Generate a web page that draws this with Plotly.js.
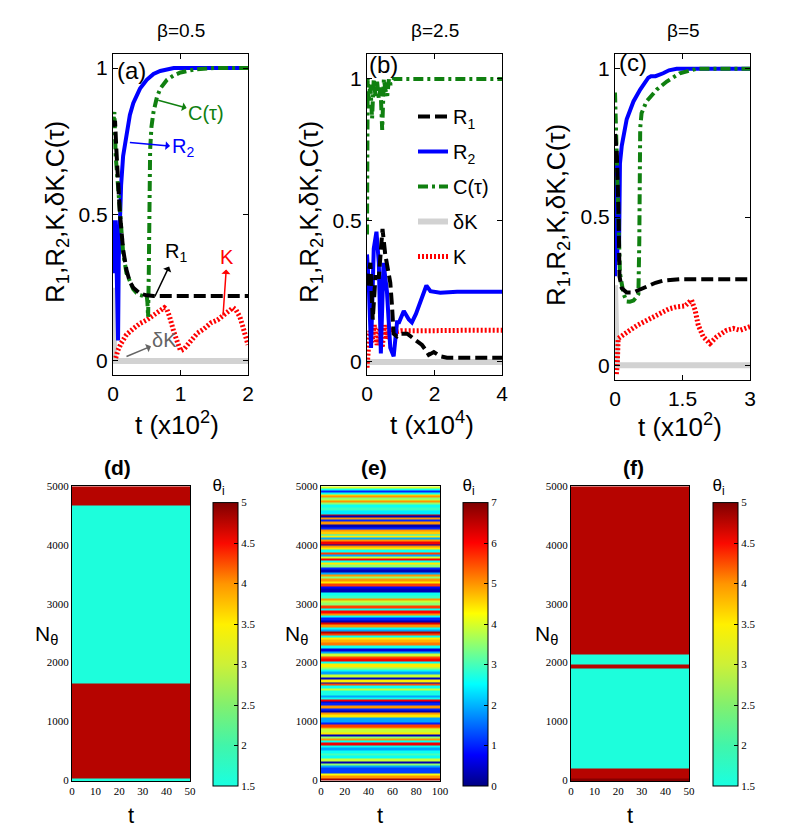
<!DOCTYPE html>
<html><head><meta charset="utf-8">
<script src="https://cdn.plot.ly/plotly-3.0.1.min.js"></script>
<style>html,body{margin:0;padding:0;background:#fff}#chart{width:790px;height:829px}</style>
</head><body><div id="chart"></div>
<script>
// ---------- Panel (a): beta = 0.5, t in units of 10^2 ----------
const tR1a = [0, 0.03, 0.05, 0.1, 0.15, 0.2, 0.25, 0.3, 0.4, 0.5, 0.6, 0.8, 1.0, 1.5, 2.0];
const R1a  = [0.8, 0.82, 0.72, 0.51, 0.38, 0.31, 0.27, 0.25, 0.23, 0.224, 0.222, 0.222, 0.222, 0.222, 0.222];
const tR2a = [0, 0.02, 0.04, 0.06, 0.075, 0.085, 0.1, 0.12, 0.15, 0.2, 0.25, 0.3, 0.4, 0.5, 0.6, 0.7, 0.9, 1.2, 2.0];
const R2a  = [0.48, 0.3, 0.48, 0.2, 0.07, 0.35, 0.5, 0.6, 0.7, 0.78, 0.84, 0.88, 0.93, 0.96, 0.98, 0.99, 1.0, 1.0, 1.0];
const tCa  = [0, 0.02, 0.04, 0.07, 0.1, 0.12, 0.15, 0.2, 0.25, 0.3, 0.35, 0.4, 0.45, 0.5, 0.51, 0.52, 0.53, 0.54, 0.55, 0.57, 0.6, 0.65, 0.7, 0.8, 0.9, 1.0, 1.2, 1.5, 2.0];
const Ca   = [0.8, 0.85, 0.7, 0.6, 0.5, 0.44, 0.37, 0.3, 0.27, 0.245, 0.232, 0.225, 0.222, 0.222, 0.2, 0.15, 0.3, 0.55, 0.72, 0.8, 0.85, 0.9, 0.93, 0.96, 0.975, 0.985, 0.995, 1.0, 1.0];
const tKa  = [0.04, 0.07, 0.12, 0.2, 0.3, 0.4, 0.5, 0.6, 0.7, 0.76, 0.8, 0.84, 0.9, 0.95, 1.0, 1.05, 1.15, 1.25, 1.35, 1.45, 1.55, 1.65, 1.72, 1.78, 1.82, 1.88, 1.92, 1.96, 2.0];
const Ka   = [0.01, 0.035, 0.06, 0.09, 0.11, 0.128, 0.14, 0.156, 0.17, 0.182, 0.175, 0.15, 0.1, 0.065, 0.035, 0.04, 0.07, 0.095, 0.11, 0.13, 0.14, 0.156, 0.17, 0.182, 0.175, 0.15, 0.12, 0.085, 0.055];
const tdKa = [0, 0.01, 0.02, 2.0];
const dKa  = [0.25, 0.05, 0, 0];

// ---------- Panel (b): beta = 2.5, t in units of 10^4 ----------
const tR1b = [0, 0.1, 0.17, 0.25, 0.35, 0.46, 0.54, 0.62, 0.69, 0.74, 0.79, 0.89, 1.0, 1.19, 1.43, 1.63, 1.78, 1.83, 1.98, 2.17, 2.37, 4.0];
const R1b  = [0.27, 0.35, 0.15, 0.3, 0.3, 0.47, 0.38, 0.32, 0.28, 0.2, 0.1, 0.09, 0.1, 0.1, 0.08, 0.06, 0.035, 0.025, 0.035, 0.02, 0.015, 0.015];
const tR2b = [0, 0.05, 0.12, 0.2, 0.28, 0.35, 0.41, 0.49, 0.59, 0.69, 0.79, 0.89, 0.95, 1.09, 1.24, 1.33, 1.45, 1.58, 1.76, 1.88, 2.17, 2.67, 4.0];
const R2b  = [0.38, 0.28, 0.05, 0.4, 0.46, 0.35, 0.03, 0.35, 0.25, 0.05, 0.02, 0.14, 0.14, 0.18, 0.15, 0.14, 0.17, 0.21, 0.27, 0.25, 0.245, 0.248, 0.248];
const tCb  = [0, 0.02, 0.05, 0.1, 0.15, 0.2, 0.25, 0.3, 0.35, 0.4, 0.45, 0.5, 0.55, 0.6, 0.65, 0.7, 0.8, 1.0, 4.0];
const Cb   = [0.45, 1.0, 0.93, 0.98, 0.86, 1.0, 0.94, 0.99, 0.93, 0.97, 0.82, 1.0, 0.96, 0.94, 1.0, 0.98, 1.0, 1.0, 1.0];
const tKb  = [0, 0.03, 0.08, 0.15, 0.22, 0.3, 0.38, 0.45, 0.52, 0.6, 0.7, 0.8, 1.0, 1.5, 2.0, 3.0, 4.0];
const Kb   = [-0.02, 0.06, 0.11, 0.07, 0.13, 0.06, 0.12, 0.05, 0.13, 0.08, 0.12, 0.105, 0.11, 0.11, 0.112, 0.112, 0.112];
const tdKb = [0, 4.0];
const dKb  = [0, 0];

// ---------- Panel (c): beta = 5, t in units of 10^2 ----------
const tR1c = [0, 0.04, 0.08, 0.1, 0.15, 0.26, 0.4, 0.52, 0.65, 0.78, 0.9, 1.07, 1.25, 1.44, 3.0];
const R1c  = [0.78, 0.72, 0.5, 0.3, 0.26, 0.245, 0.245, 0.253, 0.262, 0.27, 0.278, 0.285, 0.288, 0.29, 0.29];
const tR2c = [0, 0.03, 0.05, 0.07, 0.09, 0.11, 0.15, 0.26, 0.41, 0.56, 0.74, 0.8, 0.9, 1.0, 1.07, 1.2, 1.37, 3.0];
const R2c  = [0.3, 0.7, 0.35, 0.65, 0.4, 0.68, 0.74, 0.83, 0.89, 0.93, 0.97, 0.975, 0.975, 0.98, 0.985, 0.995, 1.0, 1.0];
const tCc  = [0, 0.04, 0.08, 0.11, 0.19, 0.26, 0.33, 0.41, 0.48, 0.52, 0.54, 0.56, 0.59, 0.7, 0.93, 1.15, 1.44, 1.81, 3.0];
const Cc   = [0.92, 0.7, 0.45, 0.31, 0.24, 0.215, 0.214, 0.218, 0.23, 0.24, 0.42, 0.8, 0.85, 0.89, 0.93, 0.957, 0.985, 1.0, 1.0];
const tKc  = [0.03, 0.05, 0.07, 0.15, 0.33, 0.5, 0.7, 0.9, 1.07, 1.2, 1.37, 1.56, 1.7, 1.78, 1.85, 1.96, 2.11, 2.26, 2.48, 2.63, 2.78, 2.96, 3.0];
const Kc   = [-0.03, 0.0, 0.09, 0.1, 0.118, 0.135, 0.152, 0.165, 0.18, 0.19, 0.197, 0.2, 0.22, 0.186, 0.135, 0.096, 0.073, 0.096, 0.118, 0.124, 0.118, 0.13, 0.13];
const tdKc = [0, 0.02, 0.04, 3.0];
const dKc  = [0.27, 0.05, 0, 0];

// ---------- Heatmaps: theta_i bands over oscillator index N_theta ----------
const tEdgesD = [0, 50];
const nEdgesD = [-40, 30, 1645, 4677, 5000];
const thetaD  = [1.55, 4.78, 1.55, 4.78];

const tEdgesE = [0, 100];
const nEdgesE = [5000,4966,4926,4898,4870,4841,4813,4785,4756,4728,
  4700,4643,4586,4530,4500,4473,4433,4399,4360,4303,
  4275,4229,4190,4161,4133,4105,4059,4020,3991,3963,
  3935,3878,3850,3810,3776,3748,3708,3663,3623,3583,
  3538,3504,3470,3425,3380,3340,3300,3255,3198,3141,
  3096,3056,3017,2971,2926,2886,2830,2801,2773,2716,
  2677,2643,2603,2563,2529,2490,2461,2433,2393,2348,
  2291,2246,2189,2150,2110,2065,2019,1980,1923,1883,
  1849,1793,1753,1713,1668,1640,1611,1555,1526,1441,
  1413,1373,1345,1317,1271,1226,1186,1147,1113,1073,
  988,943,903,875,818,773,744,705,676,637,
  591,546,506,450,410,365,319,280,251,206,
  110,70,25,0];
const thetaE = [4.0,2.6,1.0,2.6,4.4,5.0,3.5,3.9,5.0,3.5,
  2.6,2.9,2.4,6.4,0.3,5.0,1.0,5.0,0.3,1.0,
  5.0,4.6,2.6,4.4,1.9,5.0,6.1,0.3,5.0,4.4,
  2.6,5.6,1.9,3.9,6.1,2.6,4.4,3.5,1.0,0.3,
  1.9,5.0,3.5,5.0,4.4,5.6,0.8,0.3,2.6,2.9,
  5.0,3.9,3.5,5.6,2.6,6.0,5.0,2.6,1.0,0.3,
  6.3,5.0,2.6,1.9,6.6,5.6,2.6,4.4,4.8,5.2,
  2.6,0.5,1.9,3.9,5.5,6.1,2.6,4.4,3.5,2.6,
  1.9,3.9,0.4,4.4,0.3,5.5,2.6,3.9,2.7,1.9,
  2.6,6.1,0.3,1.0,5.0,1.0,0.3,5.0,4.4,1.9,
  1.0,5.6,5.0,3.9,4.4,0.3,3.5,5.0,2.6,6.1,
  2.6,1.9,2.6,3.0,2.6,3.9,0.3,3.5,1.9,1.2,
  4.2,5.0,6.7];

const tEdgesF = [0, 50];
const nEdgesF = [-40, 20, 200, 1900, 1960, 2130, 5000];
const thetaF  = [4.98, 4.78, 1.55, 4.78, 1.55, 4.78];

// ---------- styles ----------
const SANS = 'Liberation Sans, Arial, sans-serif';
const SERIF = 'Liberation Serif, Times New Roman, serif';
const cR1 = 'black', cR2 = 'rgb(0,0,255)', cC = 'rgb(16,128,16)', cdK = 'rgb(210,210,210)', cK = 'rgb(255,0,0)';

function lineSet(xa, ya, tR1, R1, tR2, R2, tC, C, tK, K, tdK, dK, show) {
  return [
    {x: tdK, y: dK, xaxis: xa, yaxis: ya, mode: 'lines', name: 'δK', legendgroup: 'g4', legendrank: 4, showlegend: show,
     line: {color: cdK, width: 6}},
    {x: tK, y: K, xaxis: xa, yaxis: ya, mode: 'lines', name: 'K', legendgroup: 'g5', legendrank: 5, showlegend: show,
     line: {color: cK, width: 5, dash: '2px,2px'}},
    {x: tR2, y: R2, xaxis: xa, yaxis: ya, mode: 'lines', name: 'R<sub>2</sub>', legendgroup: 'g2', legendrank: 2, showlegend: show,
     line: {color: cR2, width: 4}},
    {x: tC, y: C, xaxis: xa, yaxis: ya, mode: 'lines', name: 'C(τ)', legendgroup: 'g3', legendrank: 3, showlegend: show,
     line: {color: cC, width: 4, dash: '10px,4px,3px,4px'}},
    {x: tR1, y: R1, xaxis: xa, yaxis: ya, mode: 'lines', name: 'R<sub>1</sub>', legendgroup: 'g1', legendrank: 1, showlegend: show,
     line: {color: cR1, width: 4, dash: '12px,5px'}}
  ];
}

const jet = [[0,'rgb(0,0,131)'],[0.11,'rgb(0,0,255)'],[0.36,'rgb(0,255,255)'],[0.61,'rgb(255,255,0)'],[0.86,'rgb(255,0,0)'],[1,'rgb(128,0,0)']];
const partJet = [[0,'rgb(25,255,225)'],[0.143,'rgb(65,245,170)'],[0.286,'rgb(130,240,110)'],[0.43,'rgb(205,240,55)'],[0.571,'rgb(255,240,0)'],[0.714,'rgb(255,150,0)'],[0.857,'rgb(250,10,0)'],[1,'rgb(128,0,0)']];

function cbar(xpx, dt) {
  return {x: xpx/790, xanchor: 'left', y: 1-476/829, yanchor: 'top', len: (786-476)/829, lenmode: 'fraction',
          thickness: 25, thicknessmode: 'pixels', xpad: 0, ypad: 0, outlinewidth: 1, outlinecolor: 'black',
          ticks: 'inside', ticklen: 4, tickcolor: 'black', dtick: dt,
          tickfont: {family: SERIF, size: 11, color: 'black'},
          title: {text: 'θ<sub>i</sub>', side: 'top', font: {family: SANS, size: 17, color: 'black'}}};
}
function toRows(v) { return v.map(function(a){ return [a]; }); }

const traces = [].concat(
  lineSet('x', 'y', tR1a, R1a, tR2a, R2a, tCa, Ca, tKa, Ka, tdKa, dKa, false),
  lineSet('x2', 'y2', tR1b, R1b, tR2b, R2b, tCb, Cb, tKb, Kb, tdKb, dKb, true),
  lineSet('x3', 'y3', tR1c, R1c, tR2c, R2c, tCc, Cc, tKc, Kc, tdKc, dKc, false),
  [
    {type: 'heatmap', x: tEdgesD, y: nEdgesD, z: toRows(thetaD), xaxis: 'x4', yaxis: 'y4',
     zmin: 1.5, zmax: 5, colorscale: partJet, colorbar: cbar(213, 0.5), showlegend: false},
    {type: 'heatmap', x: tEdgesE, y: nEdgesE.slice().reverse(), z: toRows(thetaE.slice().reverse()), xaxis: 'x5', yaxis: 'y5',
     zmin: 0, zmax: 7, colorscale: jet, colorbar: cbar(463, 1), showlegend: false},
    {type: 'heatmap', x: tEdgesF, y: nEdgesF, z: toRows(thetaF), xaxis: 'x6', yaxis: 'y6',
     zmin: 1.5, zmax: 5, colorscale: partJet, colorbar: cbar(713, 0.5), showlegend: false}
  ]
);

function topX(anchor, dom, rng, vals, txt) {
  return {anchor: anchor, domain: dom, range: rng, tickvals: vals, ticktext: txt, ticks: 'inside', ticklen: 5, tickcolor: 'black',
          showline: true, mirror: 'ticks', linecolor: 'black', linewidth: 1, showgrid: false, zeroline: false,
          tickfont: {family: SANS, size: 21, color: 'black'}};
}
function topY(anchor, dom, rng) {
  return {anchor: anchor, domain: dom, range: rng, tickvals: [0, 0.5, 1], ticktext: ['0', '0.5', '1'], ticks: 'inside', ticklen: 5, tickcolor: 'black',
          showline: true, mirror: 'ticks', linecolor: 'black', linewidth: 1, showgrid: false, zeroline: false,
          tickfont: {family: SANS, size: 21, color: 'black'}};
}
function botX(anchor, dom, rng, dt) {
  return {anchor: anchor, domain: dom, range: rng, dtick: dt, tick0: 0, ticks: '', showline: true, mirror: true, linecolor: 'black', linewidth: 1,
          showgrid: false, zeroline: false, tickfont: {family: SERIF, size: 11, color: 'black'}};
}
function botY(anchor, dom) {
  return {anchor: anchor, domain: dom, range: [-17, 5008], dtick: 1000, tick0: 0, ticks: '', showline: true, mirror: true, linecolor: 'black', linewidth: 1,
          showgrid: false, zeroline: false, tickfont: {family: SERIF, size: 11, color: 'black'}};
}

const topDomY = [1-375/829, 1-54/829];
const botDomY = [1-781/829, 1-486/829];

function txt(x, y, s, size, extra) {
  return Object.assign({xref: 'paper', yref: 'paper', x: x/790, y: 1-y/829, text: s, showarrow: false,
    xanchor: 'center', yanchor: 'middle', font: {family: SANS, size: size, color: 'black'}}, extra || {});
}
function arrowNote(s, col, tx, ty, px, py) {
  return {xref: 'x', yref: 'y', axref: 'x', ayref: 'y', x: px, y: py, ax: tx, ay: ty, text: s, showarrow: true,
          arrowside: 'start', arrowhead: 2, arrowsize: 1.1, arrowwidth: 1.5, arrowcolor: col,
          font: {family: SANS, size: 20, color: col}};
}
const ylab = 'R<sub>1</sub>,R<sub>2</sub>,K,δK,C(τ)';

const annotations = [
  txt(181, 31, 'β=0.5', 19), txt(435, 31, 'β=2.5', 19), txt(683, 31, 'β=5', 19),
  txt(56, 212, ylab, 26, {textangle: -90}),
  txt(310, 212, ylab, 26, {textangle: -90}),
  txt(558, 215, ylab, 26, {textangle: -90}),
  txt(177, 423, 't (x10<sup>2</sup>)', 26), txt(432, 423, 't (x10<sup>4</sup>)', 26), txt(680, 425, 't (x10<sup>2</sup>)', 26),
  {xref: 'x', yref: 'y', x: 0, y: 0.99, text: '(a)', showarrow: false, xanchor: 'left', yanchor: 'middle', xshift: 2,
   font: {family: SANS, size: 24, color: 'black'}},
  {xref: 'x2', yref: 'y2', x: 0, y: 1.05, text: '(b)', showarrow: false, xanchor: 'left', yanchor: 'middle', xshift: 0,
   font: {family: SANS, size: 24, color: 'black'}},
  {xref: 'x3', yref: 'y3', x: 0, y: 1.02, text: '(c)', showarrow: false, xanchor: 'left', yanchor: 'middle', xshift: 2,
   font: {family: SANS, size: 24, color: 'black'}},
  arrowNote('C(τ)', cC, 1.38, 0.846, 0.67, 0.89),
  arrowNote('R<sub>2</sub>', cR2, 1.03, 0.73, 0.25, 0.746),
  arrowNote('R<sub>1</sub>', cR1, 0.93, 0.37, 0.62, 0.22),
  arrowNote('K', cK, 1.69, 0.355, 1.63, 0.155),
  arrowNote('δK', 'rgb(100,100,100)', 0.77, 0.07, 0.2, 0.015),
  txt(117, 467, '<b>(d)</b>', 21), txt(374, 467, '<b>(e)</b>', 21), txt(633, 467, '<b>(f)</b>', 21),
  txt(46, 635, 'N<sub>θ</sub>', 21), txt(296, 635, 'N<sub>θ</sub>', 21), txt(546, 635, 'N<sub>θ</sub>', 21),
  txt(131, 815, 't', 22), txt(380, 815, 't', 22), txt(630, 815, 't', 22)
];

const layout = {
  width: 790, height: 829, margin: {l: 0, r: 0, t: 0, b: 0},
  paper_bgcolor: 'white', plot_bgcolor: 'white',
  font: {family: SANS, color: 'black'},
  xaxis: topX('y', [113/790, 248/790], [0, 2], [0, 1, 2], ['0', '1', '2']),
  yaxis: topY('x', topDomY, [-0.048, 1.048]),
  xaxis2: topX('y2', [367/790, 502/790], [0, 4], [0, 2, 4], ['0', '2', '4']),
  yaxis2: topY('x2', topDomY, [-0.046, 1.088]),
  xaxis3: topX('y3', [615/790, 750/790], [0, 3], [0, 1.5, 3], ['0', '1.5', '3']),
  yaxis3: topY('x3', [1-380/829, 1-54/829], [-0.05, 1.05]),
  xaxis4: botX('y4', [72/790, 190/790], [0, 50], 10),
  yaxis4: botY('x4', botDomY),
  xaxis5: botX('y5', [321/790, 440/790], [0, 100], 20),
  yaxis5: botY('x5', botDomY),
  xaxis6: botX('y6', [571/790, 689/790], [0, 50], 10),
  yaxis6: botY('x6', botDomY),
  showlegend: true,
  legend: {x: 413/790, y: 1-97/829, xanchor: 'left', yanchor: 'top', bgcolor: 'rgba(0,0,0,0)', borderwidth: 0,
           traceorder: 'grouped', tracegroupgap: 6, font: {family: SANS, size: 20, color: 'black'}},
  annotations: annotations
};

Plotly.newPlot('chart', traces, layout, {displayModeBar: false, staticPlot: true});
</script></body></html>
